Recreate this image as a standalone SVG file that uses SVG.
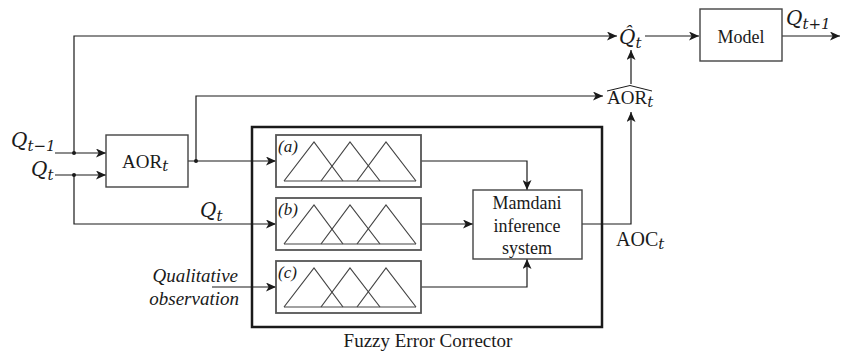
<svg xmlns="http://www.w3.org/2000/svg" width="841" height="355" viewBox="0 0 841 355">
  <defs>
    <marker id="arr" markerUnits="userSpaceOnUse" markerWidth="11" markerHeight="9" refX="10" refY="4.5" orient="auto">
      <path d="M0,0 L10,4.5 L0,9 L2.6,4.5 z" fill="#1a1a1a"/>
    </marker>
    <g id="mf">
      <!-- three overlapping triangular membership functions on a common base -->
      <polyline points="284,20 314,-19 343,20"/>
      <polyline points="321,20 350,-19 380,20"/>
      <polyline points="357,20 386,-19 416,20"/>
      <line x1="284" y1="20" x2="416" y2="20"/>
    </g>
  </defs>
  <style>
    text { font-family: "Liberation Serif", "DejaVu Serif", serif; fill: #1a1a1a; }
    .it { font-style: italic; }
    .m { font-family: "DejaVu Serif", "Liberation Serif", serif; font-style: italic; }
    .wire { fill: none; stroke: #1a1a1a; stroke-width: 1.2; }
    .box { fill: #fff; stroke: #444; stroke-width: 1.4; }
    .mfbox { fill: #fff; stroke: #555; stroke-width: 1.8; }
    .mfl { fill: none; stroke: #444; stroke-width: 1.2; }
    .dot { fill: #1a1a1a; }
  </style>

  <rect width="841" height="355" fill="#fff"/>

  <!-- Fuzzy error corrector frame -->
  <g id="fec">
    <rect x="252" y="127" width="350" height="200" fill="none" stroke="#1a1a1a" stroke-width="2.5"/>
    <text x="428" y="347" font-size="19" text-anchor="middle">Fuzzy Error Corrector</text>
  </g>

  <!-- connectors -->
  <g id="connectors">
    <path class="wire" d="M74,153 L74,36 L617,36" marker-end="url(#arr)"/>
    <path class="wire" d="M55,153 L106,153" marker-end="url(#arr)"/>
    <path class="wire" d="M55,175 L106,175" marker-end="url(#arr)"/>
    <path class="wire" d="M74,175 L74,224 L276,224" marker-end="url(#arr)"/>
    <path class="wire" d="M188,161 L276,161" marker-end="url(#arr)"/>
    <path class="wire" d="M196,161 L196,96 L603,96" marker-end="url(#arr)"/>
    <path class="wire" d="M421,161 L527,161 L527,190" marker-end="url(#arr)"/>
    <path class="wire" d="M421,224 L473,224" marker-end="url(#arr)"/>
    <path class="wire" d="M421,287 L527,287 L527,259" marker-end="url(#arr)"/>
    <path class="wire" d="M212,287 L276,287" marker-end="url(#arr)"/>
    <path class="wire" d="M582,224 L631,224 L631,112" marker-end="url(#arr)"/>
    <path class="wire" d="M631,84 L631,50" marker-end="url(#arr)"/>
    <path class="wire" d="M645,36 L699,36" marker-end="url(#arr)"/>
    <path class="wire" d="M782,36 L840,36" marker-end="url(#arr)"/>
    <circle class="dot" cx="74" cy="153" r="2"/>
    <circle class="dot" cx="74" cy="175" r="2"/>
    <circle class="dot" cx="196" cy="161" r="2"/>
  </g>

  <!-- inputs -->
  <g id="in-q-prev">
    <text x="11" y="147" font-size="20"><tspan class="m">Q</tspan><tspan class="m" font-size="15" dy="4">t−1</tspan></text>
  </g>
  <g id="in-q">
    <text x="31" y="176" font-size="20"><tspan class="m">Q</tspan><tspan class="m" font-size="15" dy="4">t</tspan></text>
  </g>
  <g id="lbl-q-branch">
    <text x="200" y="217" font-size="20"><tspan class="m">Q</tspan><tspan class="m" font-size="15" dy="4">t</tspan></text>
  </g>
  <g id="in-qual">
    <text x="238" y="282" font-size="19" class="it" text-anchor="end">Qualitative</text>
    <text x="239" y="305" font-size="19" class="it" text-anchor="end">observation</text>
  </g>

  <!-- AOR block -->
  <g id="aor">
    <rect class="box" x="106" y="135" width="82" height="52"/>
    <text x="122" y="168" font-size="19">AOR<tspan class="m" font-size="15" dy="3">t</tspan></text>
  </g>

  <!-- membership function blocks -->
  <g id="mf-a">
    <rect class="mfbox" x="276" y="135" width="145" height="52"/>
    <use href="#mf" class="mfl" transform="translate(0,161)"/>
    <text x="278" y="152" font-size="17" class="it">(a)</text>
  </g>
  <g id="mf-b">
    <rect class="mfbox" x="276" y="198" width="145" height="52"/>
    <use href="#mf" class="mfl" transform="translate(0,224)"/>
    <text x="278" y="215" font-size="17" class="it">(b)</text>
  </g>
  <g id="mf-c">
    <rect class="mfbox" x="276" y="261" width="145" height="52"/>
    <use href="#mf" class="mfl" transform="translate(0,287)"/>
    <text x="278" y="278" font-size="17" class="it">(c)</text>
  </g>

  <!-- inference system -->
  <g id="mamdani">
    <rect class="box" x="473" y="190" width="109" height="69"/>
    <text x="527" y="209" font-size="18" text-anchor="middle" fill="#333">Mamdani</text>
    <text x="527" y="232" font-size="18" text-anchor="middle" fill="#333">inference</text>
    <text x="527" y="254" font-size="18" text-anchor="middle" fill="#333">system</text>
  </g>
  <g id="aoc">
    <text x="616" y="246" font-size="20">AOC<tspan class="m" font-size="15" dy="3">t</tspan></text>
  </g>

  <!-- corrected AOR -->
  <g id="aor-hat">
    <path d="M607,91 L630,85.5 L652,91" fill="none" stroke="#1a1a1a" stroke-width="1"/>
    <text x="607" y="104" font-size="19">AOR<tspan class="m" font-size="15" dy="3">t</tspan></text>
  </g>

  <!-- corrected discharge -->
  <g id="q-hat">
    <text x="619" y="44" font-size="20"><tspan class="m">Q̂</tspan><tspan class="m" font-size="15" dy="4">t</tspan></text>
  </g>

  <!-- model -->
  <g id="model">
    <rect class="box" x="700" y="9" width="82" height="52"/>
    <text x="741" y="43" font-size="18" text-anchor="middle">Model</text>
  </g>
  <g id="out-q-next">
    <text x="786" y="25" font-size="20"><tspan class="m">Q</tspan><tspan class="m" font-size="15" dy="4">t+1</tspan></text>
  </g>
</svg>
